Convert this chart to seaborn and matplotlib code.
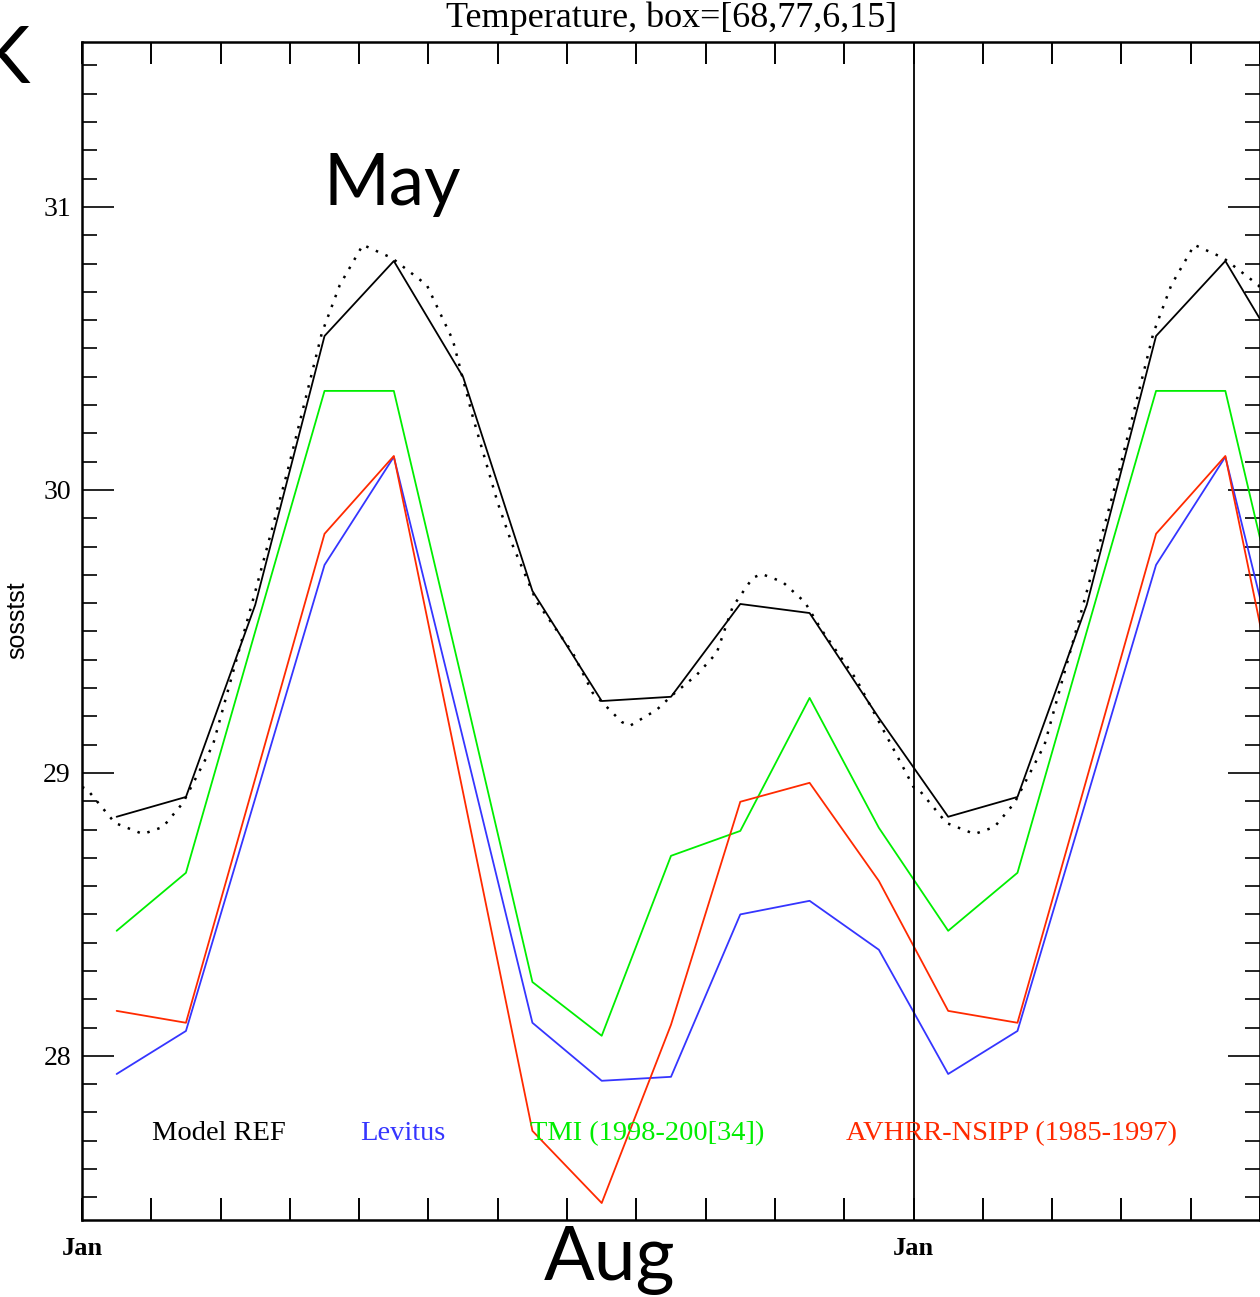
import numpy as np
import pandas as pd
import matplotlib
matplotlib.use("Agg")
import matplotlib.pyplot as plt
import seaborn as sns
from matplotlib.ticker import MultipleLocator

# ---------------- data ----------------
months = ["Jan", "Feb", "Mar", "Apr", "May", "Jun", "Jul", "Aug", "Sep", "Oct", "Nov", "Dec"]
model_ref = [28.845, 28.915, 29.594, 30.544, 30.809, 30.399, 29.643, 29.254, 29.269, 29.597, 29.565, 29.194]
levitus   = [27.936, 28.088, 28.91, 29.735, 30.117, 29.12, 28.117, 27.912, 27.926, 28.50, 28.548, 28.375]
tmi       = [28.442, 28.647, 29.50, 30.35, 30.35, 29.31, 28.261, 28.071, 28.707, 28.795, 29.265, 28.806]
avhrr     = [28.159, 28.117, 28.98, 29.845, 30.12, 28.93, 27.735, 27.48, 28.11, 28.898, 28.965, 28.618]

# dotted (high-frequency model) curve: time in months from Jan 1, value
dot_t = [0.0, 0.07, 0.476, 0.88, 1.168, 1.457, 1.89, 2.495, 2.971, 3.462, 3.72, 4.053, 4.47,
         4.976, 5.351, 5.64, 6.0, 6.2, 6.563, 7.082, 7.37, 7.789, 7.904, 8.294, 8.524, 8.87,
         9.159, 9.39, 9.678, 9.808, 10.11, 10.43, 10.674, 11.178, 11.77, 12.0]
dot_v = [28.95, 28.943, 28.823, 28.784, 28.809, 28.894, 29.099, 29.636, 30.071, 30.555, 30.724,
         30.866, 30.82, 30.724, 30.53, 30.258, 29.954, 29.813, 29.604, 29.424, 29.283, 29.18,
         29.166, 29.223, 29.276, 29.346, 29.424, 29.587, 29.689, 29.703, 29.675, 29.604, 29.505,
         29.329, 29.057, 28.95]

series_names = ["Model REF", "Levitus", "TMI (1998-200[34])", "AVHRR-NSIPP (1985-1997)"]
series_vals = [model_ref, levitus, tmi, avhrr]
series_cols = ["#000000", "#3535ff", "#00ee00", "#ff2a00"]

title = "Temperature, box=[68,77,6,15]"
ylabel = "sosstst"

# ---------------- figure ----------------
sns.set_theme(style="white")
plt.rcParams["font.family"] = ["Liberation Serif", "DejaVu Serif"]
plt.rcParams.update({"text.color": "black", "axes.labelcolor": "black",
                     "xtick.color": "black", "ytick.color": "black"})

W, H = 1260, 1297
fig = plt.figure(figsize=(W / 100, H / 100), dpi=100)
ax = fig.add_axes([82 / W, 1 - 1220 / H, (1260 - 82) / W, (1220 - 42) / H])

# monthly series over two cycles (mid-month positions)
x_month = np.arange(12) + 0.5
for name, vals, col in zip(series_names, series_vals, series_cols):
    xx = np.concatenate([x_month, x_month[:6] + 12])
    yy = np.concatenate([vals, vals[:6]])
    df = pd.DataFrame({"x": xx, "y": yy})
    sns.lineplot(data=df, x="x", y="y", ax=ax, color=col, lw=1.3, sort=False, estimator=None)

# dotted curve over two cycles
dt = np.concatenate([dot_t, np.array(dot_t[1:]) + 12])
dv = np.concatenate([dot_v, dot_v[1:]])
sns.lineplot(x=dt, y=dv, ax=ax, color="black", lw=1.8, sort=False, estimator=None,
             linestyle=(0, (1, 3.2)))

# vertical line at second Jan
ax.axvline(12, color="black", lw=1.3)

ax.set_xlim(0, 17)
ax.set_ylim(27.42, 31.583)

# ticks
ax.xaxis.set_major_locator(MultipleLocator(1))
ax.xaxis.set_major_formatter(plt.FuncFormatter(lambda v, p: "Jan" if abs(v % 12) < 1e-6 else ""))
ax.yaxis.set_major_locator(MultipleLocator(1))
ax.yaxis.set_minor_locator(MultipleLocator(0.1))
ax.yaxis.set_major_formatter(plt.FuncFormatter(lambda v, p: f"{int(round(v))}"))
ax.tick_params(axis="x", which="major", direction="in", length=16, width=1.4,
               top=True, bottom=True, labelsize=19, pad=12, color="black", labelcolor="black")
ax.tick_params(axis="y", which="major", direction="in", length=23, width=1.2,
               left=True, right=True, labelsize=20, pad=8, color="black", labelcolor="black")
ax.tick_params(axis="y", which="minor", direction="in", length=11, width=1.2,
               left=True, right=True, color="black")
for lab in ax.get_xticklabels():
    lab.set_fontweight("bold")

for s in ax.spines.values():
    s.set_color("black")
    s.set_linewidth(1.8)
ax.set_xlabel("")
ax.set_ylabel(ylabel, fontsize=18, family=["Liberation Sans", "DejaVu Sans"])
ax.yaxis.set_label_coords((29 - 82) / (1260 - 82), (1220 - 620) / (1220 - 42))

fig.text(672 / W, 1 - 18 / H, title, fontsize=26, ha="center", va="center")

# in-plot legend texts
legend_x = [152, 360, 530, 846]
for name, col, px in zip(series_names, series_cols, legend_x):
    fig.text(px / W, 1 - 1134 / H, name, color=col, fontsize=20.5, ha="left", va="center")

# large annotations
sans = ["Lato", "DejaVu Sans"]
fig.text(392 / W, 1 - 205 / H, "May", fontsize=51, family=sans, ha="center", va="baseline")
fig.text(610 / W, 1 - 1280 / H, "Aug", fontsize=54, family=sans, ha="center", va="baseline")
# partially visible letter at the top-left corner (its stem lies outside the figure)
fig.text(-22 / W, 1 - 83 / H, "K", fontsize=57, family=sans, ha="left", va="baseline")

fig.savefig("out.png", dpi=100)
